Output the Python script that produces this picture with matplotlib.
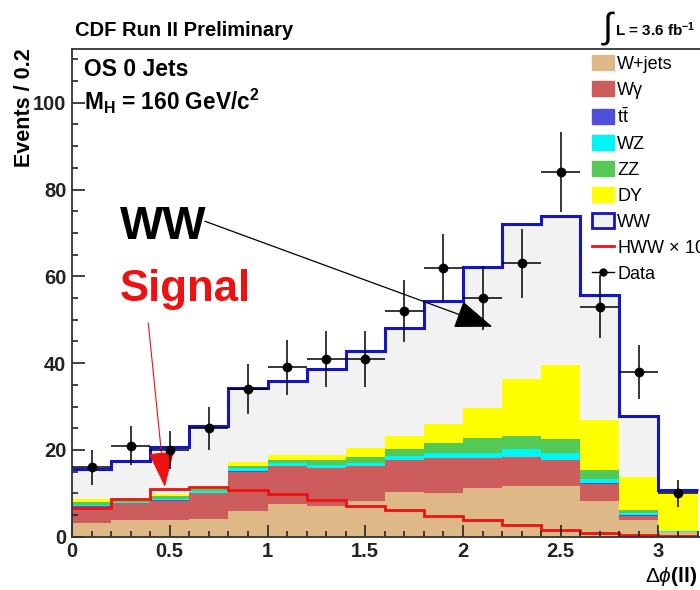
import matplotlib
matplotlib.use("Agg")
import matplotlib.pyplot as plt
import numpy as np
from matplotlib.patches import Patch
from matplotlib.lines import Line2D
from matplotlib.ticker import MultipleLocator


# delta phi(ll) binning, 0.2 wide bins
bin_edges = np.round(np.arange(0, 3.21, 0.2), 2)

# background expectations per bin (stacked bottom -> top)
wjets = [3.1, 3.9, 3.9, 4.0, 5.9, 7.5, 7.1, 8.3, 10.2, 10.0, 11.2, 11.8, 11.8, 8.2, 3.8, 1.0]
wgamma = [3.8, 3.8, 4.4, 6.0, 9.1, 8.7, 8.7, 7.9, 7.4, 8.1, 6.9, 6.5, 5.8, 4.0, 1.0, 0.1]
ttbar = [0.1, 0.1, 0.1, 0.1, 0.1, 0.1, 0.1, 0.1, 0.1, 0.1, 0.1, 0.1, 0.1, 0.1, 0.2, 0.05]
wz = [0.4, 0.3, 0.4, 0.5, 0.7, 0.7, 0.7, 0.8, 0.9, 1.1, 1.1, 1.8, 1.7, 1.0, 0.5, 0.05]
zz = [0.5, 0.2, 0.5, 0.3, 0.6, 0.7, 1.0, 1.2, 1.6, 2.3, 3.4, 2.9, 3.2, 2.1, 0.7, 0.05]
drell_yan = [0.7, 0.2, 0.6, 0.6, 0.9, 1.2, 1.3, 2.1, 2.9, 4.4, 6.9, 13.3, 16.9, 11.6, 7.5, 9.45]
ww = [7.1, 8.9, 10.7, 14.1, 17.0, 16.9, 19.8, 22.3, 25.0, 28.3, 32.5, 35.7, 34.5, 28.6, 14.2, 0.1]

# signal (scaled x10) and observed events
hww_x10 = [6.6, 8.6, 10.9, 11.4, 10.8, 9.8, 8.5, 7.1, 6.2, 4.8, 3.9, 2.7, 1.5, 0.9, 0.4, 0.2]
data = [16, 21, 20, 25, 34, 39, 41, 41, 52, 62, 55, 63, 84, 53, 38, 10]

stack_names = ["W+jets", "W\u03b3", r"$\mathrm{t\bar{t}}$", "WZ", "ZZ", "DY"]
stack_colors = ["#deb887", "#cd5c5c", "#4f4fd9", "#00f5f5", "#55c955", "#ffff00"]
ww_fill = "#f2f2f2"
ww_line = "#1414c8"
hww_color = "#ee1111"


def main():

    plt.rcParams['font.family'] = ['Liberation Sans', 'DejaVu Sans']
    plt.rcParams['mathtext.fontset'] = 'custom'
    plt.rcParams['mathtext.rm'] = 'Liberation Sans'
    plt.rcParams['mathtext.it'] = 'Liberation Sans:italic'
    plt.rcParams['mathtext.bf'] = 'Liberation Sans:bold'

    fig = plt.figure(figsize=(7, 5.9), dpi=100)
    ax = fig.add_axes([72/700, 53.3/590, 628/700, 487.7/590])

    # stacked backgrounds
    bottom = np.zeros(len(wjets))
    for values, color in zip([wjets, wgamma, ttbar, wz, zz, drell_yan], stack_colors):
        top = bottom + np.array(values)
        ax.stairs(top, bin_edges, baseline=bottom, fill=True, color=color, lw=0)
        bottom = top

    total = bottom + np.array(ww)
    ax.stairs(total, bin_edges, baseline=bottom, fill=True, color=ww_fill, lw=0)
    ax.stairs(total, bin_edges, baseline=None, color=ww_line, lw=2.2)
    ax.stairs(hww_x10, bin_edges, baseline=None, color=hww_color, lw=2.0)

    centers = (bin_edges[:-1] + bin_edges[1:]) / 2
    ax.errorbar(centers, data, yerr=np.sqrt(data), xerr=0.1, fmt='o', color='black',
                markersize=6, elinewidth=1.1, capsize=0, zorder=5)

    ax.set_xlim(0, 628/195.5)
    ax.set_ylim(0, 112.4)

    ax.xaxis.set_major_locator(MultipleLocator(0.5))
    ax.xaxis.set_minor_locator(MultipleLocator(0.1))
    ax.yaxis.set_major_locator(MultipleLocator(20))
    ax.yaxis.set_minor_locator(MultipleLocator(5))
    ax.xaxis.set_major_formatter(plt.FuncFormatter(lambda v, p: "%g" % v))
    ax.tick_params(which='both', direction='in', top=False, right=False, colors='#222222',
                   width=1.2)
    ax.tick_params(which='major', length=9, labelsize=14.5, pad=4)
    ax.tick_params(which='minor', length=4.5)
    for lbl in ax.get_xticklabels() + ax.get_yticklabels():
        lbl.set_fontweight('bold')
    for side in ['left', 'bottom', 'top']:
        ax.spines[side].set_color('#333333')
        ax.spines[side].set_linewidth(1.3)
    ax.spines['right'].set_visible(False)

    # labels
    fig.text(75/700, 1 - 30/590, "CDF Run II Preliminary", fontsize=14.5, fontweight='bold',
             ha='left', va='center')
    fig.text(609/700, 1 - 28/590, r"$\int$", fontsize=26, ha='center', va='center')
    fig.text(615/700, 1 - 30/590, r"L = 3.6 fb$^{\mathbf{-1}}$", fontsize=11,
             fontweight='bold', ha='left', va='center')
    fig.text(25/700, 1 - 48/590, "Events / 0.2", rotation=90, fontsize=15.5,
             fontweight='bold', ha='center', va='top')
    fig.text(697/700, 1 - 577/590, r"$\Delta\phi$(ll)", fontsize=15, fontweight='bold',
             ha='right', va='center')

    ax.text(0.019, 0.957, "OS 0 Jets", transform=ax.transAxes, fontsize=16.5,
            fontweight='bold', ha='left', va='center')
    ax.text(0.019, 0.893, r"$\mathbf{M_H}$ = 160 GeV/c$^{\mathbf{2}}$", transform=ax.transAxes,
            fontsize=16.3, fontweight='bold', ha='left', va='center')

    # annotations pointing at the WW and signal shapes
    ax.text(0.245, 71.3, "WW", fontsize=33, fontweight='bold', ha='left', va='center')
    ax.annotate("", xy=(2.15, 48.4), xytext=(0.68, 72.7),
                arrowprops=dict(arrowstyle='-|>,head_length=1.2,head_width=0.45',
                                mutation_scale=20, lw=0.9, color='black',
                                shrinkA=0, shrinkB=0))
    ax.text(0.245, 57.0, "Signal", fontsize=31.5, fontweight='bold', color='#ee1111',
            ha='left', va='center')
    ax.annotate("", xy=(0.475, 11.5), xytext=(0.39, 49.3),
                arrowprops=dict(arrowstyle='-|>,head_length=1.15,head_width=0.42',
                                mutation_scale=20, lw=0.8, color='#ee1111',
                                shrinkA=0, shrinkB=0))

    # legend
    handles = [Patch(facecolor=c, edgecolor=c) for c in stack_colors]
    handles.append(Patch(facecolor=ww_fill, edgecolor=ww_line, linewidth=2))
    handles.append(Line2D([], [], color=hww_color, lw=2))
    handles.append(Line2D([], [], color='black', lw=1, marker='o', markersize=5))
    labels = stack_names + ["WW", "HWW $\\times$ 10", "Data"]
    fig.legend(handles, labels, loc='upper left', bbox_to_anchor=(592/700, 1 - 55/590),
               frameon=False, fontsize=13, handlelength=1.2, handleheight=0.9,
               handletextpad=0.2, labelspacing=0.46, borderpad=0, borderaxespad=0)

    fig.savefig("out.png", dpi=100)


if __name__ == '__main__':
    main()
